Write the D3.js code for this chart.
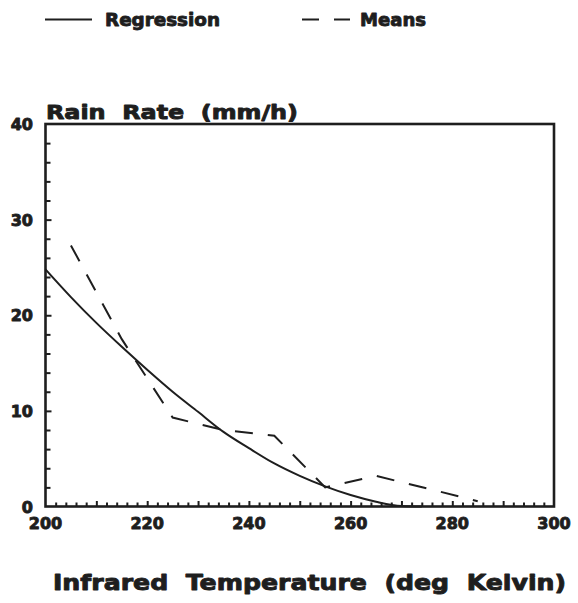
<!DOCTYPE html>
<html>
<head>
<meta charset="utf-8">
<script src="https://cdn.jsdelivr.net/npm/d3@7"></script>
<style>
  html, body { margin: 0; padding: 0; background: #fff; }
  svg { display: block; }
  text { font-family: "DejaVu Sans", sans-serif; font-weight: bold; fill: #1e1e1e;
         stroke: #1e1e1e; stroke-width: 0.9; stroke-linejoin: round; white-space: pre; }
</style>
</head>
<body>
<svg id="chart" width="578" height="603"></svg>
<script>
// Fitted regression of rain rate on IR temperature
const regTemp = [200, 205, 210, 215, 220, 225, 230, 235, 240, 245, 250, 255, 260, 265, 270, 274];
const regRate = [24.8, 21.9, 19.2, 16.7, 14.3, 12.0, 9.9, 7.8, 6.1, 4.5, 3.2, 2.1, 1.2, 0.5, 0.05, 0];

// Binned mean rain rate
const meanTemp = [205, 215, 225, 235, 245, 255, 265, 275, 285];
const meanRate = [27.3, 17.5, 9.3, 8.0, 7.4, 2.0, 3.2, 1.9, 0.55];

const xTickLabels = [200, 220, 240, 260, 280, 300];
const yTickLabels = [0, 10, 20, 30, 40];

const ink = "#1e1e1e";
const svg = d3.select("#chart");

const x = d3.scaleLinear().domain([200, 300]).range([45.5, 554]);
const y = d3.scaleLinear().domain([0, 40]).range([506.5, 124]);

// Minor ticks every 2 units, pointing inward
const xMinor = d3.range(202, 300, 2);
const yMinor = d3.range(2, 40, 2);

const xAxis = d3.axisBottom(x).tickValues(xMinor).tickSize(-3).tickFormat("");
const gx = svg.append("g").attr("transform", `translate(0,${y(0)})`).call(xAxis);
gx.selectAll(".tick line").attr("stroke", ink).attr("stroke-width", 2)
  .attr("y2", d => d % 10 === 0 ? -5.5 : -4);
gx.select(".domain").remove();

const yAxis = d3.axisLeft(y).tickValues(yMinor).tickSize(-4).tickFormat("");
const gy = svg.append("g").attr("transform", `translate(${x(200)},0)`).call(yAxis);
gy.selectAll(".tick line").attr("stroke", ink).attr("stroke-width", 2)
  .attr("x2", d => d % 10 === 0 ? 6 : 5);
gy.select(".domain").remove();

// Frame
svg.append("rect")
  .attr("x", x(200)).attr("y", y(40))
  .attr("width", x(300) - x(200)).attr("height", y(0) - y(40))
  .attr("fill", "none").attr("stroke", ink).attr("stroke-width", 2.6);

// Tick labels
svg.selectAll(".xlab").data(xTickLabels).enter().append("text")
  .attr("class", "xlab")
  .attr("x", d => x(d)).attr("y", 528.5)
  .attr("text-anchor", "middle").attr("font-size", 16)
  .text(d => d);

svg.selectAll(".ylab").data(yTickLabels).enter().append("text")
  .attr("class", "ylab")
  .attr("x", 33).attr("y", d => y(d) + 6)
  .attr("text-anchor", "end").attr("font-size", 16)
  .text(d => d);

// Axis titles
svg.append("text").attr("x", 46).attr("y", 119).attr("font-size", 19.5)
  .attr("textLength", 252).attr("lengthAdjust", "spacingAndGlyphs")
  .text("Rain  Rate  (mm/h)");

svg.append("text").attr("x", 53).attr("y", 590).attr("font-size", 21)
  .attr("textLength", 513).attr("lengthAdjust", "spacingAndGlyphs")
  .text("Infrared  Temperature  (deg  Kelvin)");

// Curves
const regData = regTemp.map((t, i) => [t, regRate[i]]);
const meanData = meanTemp.map((t, i) => [t, meanRate[i]]);

svg.append("path").datum(regData)
  .attr("fill", "none").attr("stroke", ink).attr("stroke-width", 2)
  .attr("d", d3.line().x(d => x(d[0])).y(d => y(d[1])).curve(d3.curveMonotoneX));

svg.append("path").datum(meanData)
  .attr("fill", "none").attr("stroke", ink).attr("stroke-width", 2)
  .attr("stroke-dasharray", "18,15")
  .attr("d", d3.line().x(d => x(d[0])).y(d => y(d[1])));

// Legend
const legend = svg.append("g");
legend.append("line").attr("x1", 45).attr("x2", 92).attr("y1", 19.5).attr("y2", 19.5)
  .attr("stroke", ink).attr("stroke-width", 2);
legend.append("text").attr("x", 105).attr("y", 25.5).attr("font-size", 18)
  .attr("textLength", 115).attr("lengthAdjust", "spacingAndGlyphs").text("Regression");
legend.append("line").attr("x1", 302).attr("x2", 350).attr("y1", 19.5).attr("y2", 19.5)
  .attr("stroke", ink).attr("stroke-width", 2).attr("stroke-dasharray", "17,15");
legend.append("text").attr("x", 360).attr("y", 25.5).attr("font-size", 18)
  .attr("textLength", 66).attr("lengthAdjust", "spacingAndGlyphs").text("Means");
</script>
</body>
</html>
